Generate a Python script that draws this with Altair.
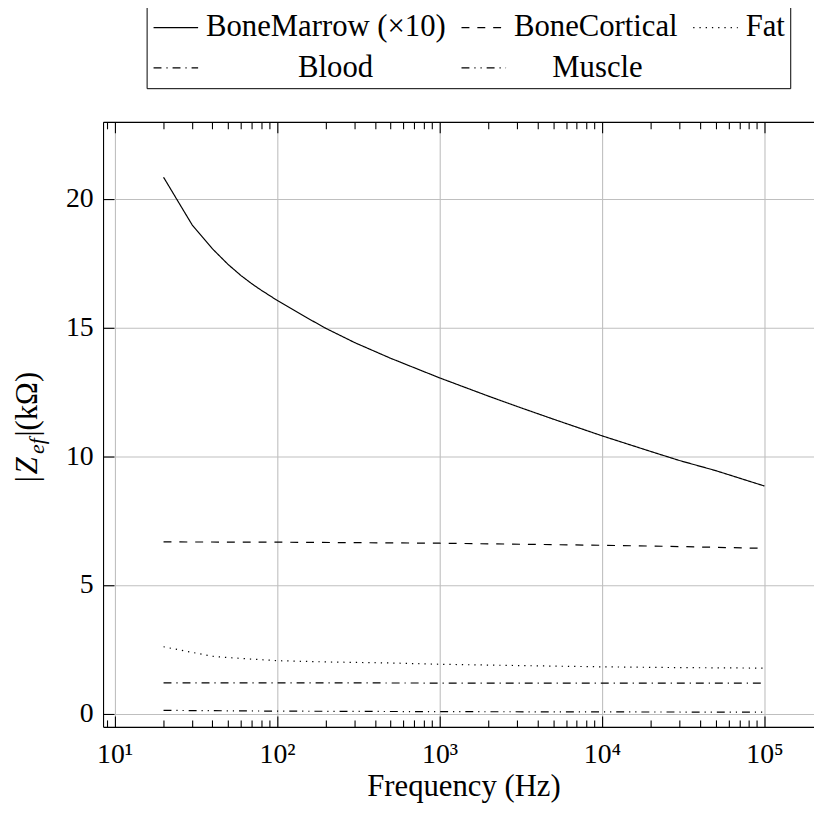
import altair as alt
import pandas as pd

# ---------------- data ----------------
series_names = ["BoneMarrow (×10)", "BoneCortical", "Fat", "Blood", "Muscle"]

marrow_freq = [20, 30, 40, 50, 60, 70, 80, 100, 150, 200, 300, 500, 1000, 2000,
               3000, 5000, 10000, 20000, 30000, 50000, 100000]
marrow_val = [20.83, 18.98, 18.05, 17.44, 17.01, 16.69, 16.44, 16.05, 15.40, 14.96,
              14.41, 13.80, 13.04, 12.33, 11.93, 11.44, 10.79, 10.18, 9.83, 9.44, 8.84]

cortical_freq = [20, 100, 1000, 10000, 30000, 100000]
cortical_val = [6.67, 6.66, 6.62, 6.54, 6.49, 6.42]

fat_freq = [20, 30, 40, 50, 70, 100, 200, 500, 1000, 3000, 10000, 30000, 100000]
fat_val = [2.60, 2.38, 2.23, 2.18, 2.12, 2.06, 2.01, 1.97, 1.92, 1.87, 1.82, 1.79, 1.77]

blood_freq = [20, 100, 1000, 10000, 100000]
blood_val = [1.20, 1.20, 1.19, 1.19, 1.19]

muscle_freq = [20, 100, 1000, 10000, 100000]
muscle_val = [0.13, 0.10, 0.08, 0.07, 0.06]

x_major = [10, 100, 1000, 10000, 100000]
x_minor = [9,
           20, 30, 40, 50, 60, 70, 80, 90,
           200, 300, 400, 500, 600, 700, 800, 900,
           2000, 3000, 4000, 5000, 6000, 7000, 8000, 9000,
           20000, 30000, 40000, 50000, 60000, 70000, 80000, 90000]
y_major = [0, 5, 10, 15, 20]

x_title = "Frequency (Hz)"

# ---------------- table ----------------
rows = []
for name, fs, vs in zip(series_names,
                        [marrow_freq, cortical_freq, fat_freq, blood_freq, muscle_freq],
                        [marrow_val, cortical_val, fat_val, blood_val, muscle_val]):
    for f, v in zip(fs, vs):
        rows.append({"series": name, "freq": f, "value": v})
df = pd.DataFrame(rows)

FONT = "Liberation Serif"
FS = 28      # tick labels
FT = 31      # titles / legend
W, H = 718, 611
LW = 1.2

xscale = alt.Scale(type="log", domain=[8.487, 201800], nice=False)
yscale = alt.Scale(domain=[-0.51, 22.98], nice=False, zero=False)

dashes = [[1, 0], [8, 8], [1.3, 5], [8, 5, 1.2, 5], [8, 5, 1.2, 5, 1.2, 5]]

sup = "['⁰','¹','²','³','⁴','⁵','⁶']"

# second-row legend labels are centred in their cells in the reference:
# pad them with no-break spaces (a zero-width space keeps the padding from being trimmed)
ZW, NB = "\u200b", "\u00a0"
legend_label_expr = (
    "datum.label == 'Blood' ? '" + ZW + NB * 12 + "Blood' : "
    "(datum.label == 'Muscle' ? '" + ZW + NB * 5 + "Muscle' : datum.label)"
)

main = alt.Chart(df).mark_line(color="black", strokeWidth=LW, strokeCap="butt").encode(
    x=alt.X("freq:Q", scale=xscale,
            axis=alt.Axis(values=x_major, grid=True, gridColor="#bfbfbf", gridWidth=1.1,
                          ticks=False, domain=True, domainColor="black", domainWidth=1.1,
                          labelExpr="'10' + " + sup + "[round(log(datum.value)/LN10)]",
                          labelFont=FONT, labelFontSize=FS, labelColor="black",
                          labelBaseline="alphabetic", labelPadding=36,
                          title=x_title, titleFont=FONT, titleFontSize=FT,
                          titleFontWeight="normal", titleColor="black",
                          titleBaseline="alphabetic", titleX=364, titleY=69)),
    y=alt.Y("value:Q", scale=yscale,
            axis=alt.Axis(values=y_major, grid=True, gridColor="#bfbfbf", gridWidth=1.1,
                          ticks=False, domain=True, domainColor="black", domainWidth=1.1,
                          labelFont=FONT, labelFontSize=FS, labelColor="black",
                          labelPadding=10, labelBaseline="middle", title=None)),
    strokeDash=alt.StrokeDash(
        "series:N",
        scale=alt.Scale(domain=series_names, range=dashes),
        legend=alt.Legend(title=None, orient="none", legendX=44, legendY=-116,
                          columns=3, direction="horizontal",
                          symbolType="M-3,0H3", symbolSize=225, symbolStrokeWidth=LW,
                          symbolStrokeColor="black", symbolOffset=9,
                          labelFont=FONT, labelFontSize=FT, labelColor="black",
                          labelExpr=legend_label_expr,
                          labelOffset=15, columnPadding=12, rowPadding=9,
                          padding=5, strokeColor="black", fillColor="white",
                          labelLimit=400)),
    detail="series:N",
)


def ghost(x_axis, y_axis):
    return alt.Chart(df).mark_line(opacity=0).encode(
        x=alt.X("freq:Q", scale=xscale, axis=x_axis),
        y=alt.Y("value:Q", scale=yscale, axis=y_axis),
        detail="series:N",
    )


def tick_axis(orient, values, size):
    return alt.Axis(orient=orient, values=values, ticks=True, tickSize=size,
                    tickColor="black", tickWidth=1.1, offset=-size,
                    labels=False, domain=False, grid=False, title=None)


layers = [
    main,
    ghost(alt.Axis(orient="top", values=[], ticks=False, labels=False, grid=False,
                   domain=True, domainColor="black", domainWidth=1.1, title=None),
          tick_axis("left", y_major, 11)),
    ghost(tick_axis("bottom", x_major, 11), None),
    ghost(tick_axis("top", x_major, 11), None),
    ghost(tick_axis("bottom", x_minor, 7), None),
    ghost(tick_axis("top", x_minor, 7), None),
]

# y-axis title "|Z_ef|(kΩ)" in pieces (rotated)
ybase = -67
ystart = 364
pieces = [
    ("|", "normal", FT, 0, 0.26 * FT),
    ("Z", "italic", FT, 0, 0.66 * FT),
    ("ef", "italic", 22, 7, 0.8 * 22),
    ("|(kΩ)", "normal", FT, 0, 0),
]
pos = ystart
for txt, style, size, dx, wdt in pieces:
    layers.append(
        alt.Chart(alt.Data(values=[{}])).mark_text(
            text=txt, angle=270, align="left", baseline="alphabetic",
            font=FONT, fontSize=size, fontStyle=style, color="black",
        ).encode(x=alt.value(ybase + dx), y=alt.value(pos))
    )
    pos -= wdt

chart = alt.layer(*layers).resolve_axis(x="independent", y="independent").properties(
    width=W, height=H,
    autosize=alt.AutoSizeParams(type="none"),
    padding={"left": 96, "top": 111, "right": 0, "bottom": 80},
).configure_view(stroke=None).configure(background="white")

chart.save("out.html", embed_options={"renderer": "svg", "actions": False})
